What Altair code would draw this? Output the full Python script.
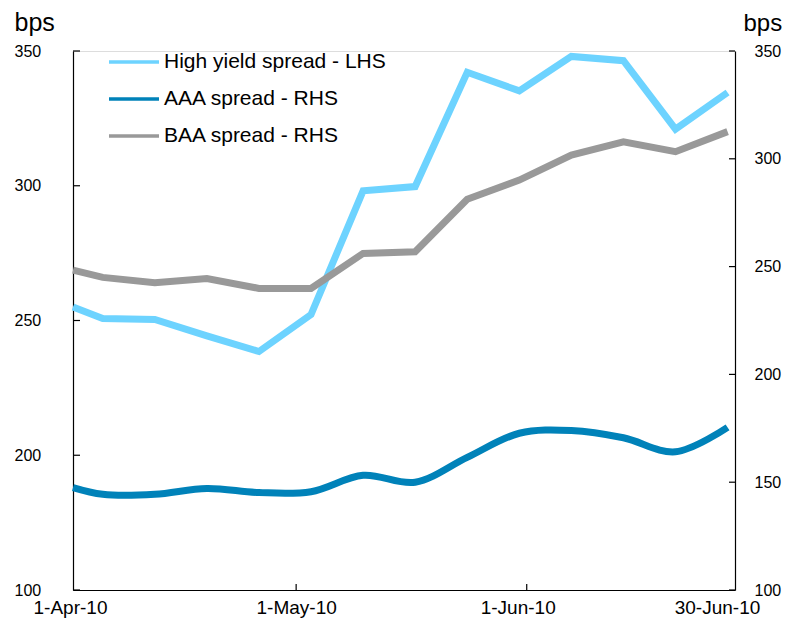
import altair as alt
import pandas as pd

dates = ["2010-04-01", "2010-04-05", "2010-04-12", "2010-04-19", "2010-04-26",
         "2010-05-03", "2010-05-10", "2010-05-17", "2010-05-24", "2010-05-31",
         "2010-06-07", "2010-06-14", "2010-06-21", "2010-06-28"]
high_yield = [255, 250.7, 250.4, 244.3, 238.5, 252.2, 298.1, 299.7, 342.1, 335.2, 348, 346.4, 321, 334.6]
aaa = [147.5, 144.4, 144.4, 147.1, 145.2, 145.6, 153.2, 150.0, 161.5, 172.7, 174.0, 170.6, 164.1, 175.4]
baa = [248.4, 245, 242.5, 244.5, 239.9, 239.9, 256.1, 256.9, 281.2, 290.1, 301.7, 307.9, 303.3, 312.6]

series_names = ["High yield spread - LHS", "AAA spread - RHS", "BAA spread - RHS"]
series_colors = ["#6dd3ff", "#0082b9", "#999999"]

left_ticks = [150, 200, 250, 300, 350]
right_ticks = [100, 150, 200, 250, 300, 350]
x_tick_dates = ["2010-05-01", "2010-06-01"]

df = pd.DataFrame({"date": dates, "hy": high_yield, "aaa": aaa, "baa": baa})
lt = pd.DataFrame({"v": left_ticks})
rt = pd.DataFrame({"v": right_ticks})
xt = pd.DataFrame({"d": x_tick_dates})

FONT = "Liberation Sans"
W, H = 662, 539

xscale = alt.Scale(type="utc", domain=[alt.DateTime(year=2010, month=4, date=1, utc=True),
                                       alt.DateTime(year=2010, month=6, date=29, utc=True)])
left_scale = alt.Scale(domain=[150, 350], nice=False, zero=False)
right_scale = alt.Scale(domain=[100, 350], nice=False, zero=False)
color_scale = alt.Scale(domain=series_names, range=series_colors)

x_axis = alt.Axis(
    values=[alt.DateTime(year=2010, month=4, date=1, utc=True),
            alt.DateTime(year=2010, month=5, date=1, utc=True),
            alt.DateTime(year=2010, month=6, date=1, utc=True),
            alt.DateTime(year=2010, month=6, date=29, utc=True)],
    labelExpr="datum.value >= utc(2010, 5, 29) ? '30-Jun-10' : utcFormat(datum.value, '%-d-%b-%y')",
    labelOffset={"expr": "datum.value >= utc(2010, 5, 29) ? -18 : (datum.value >= utc(2010, 5, 1) ? -9 : (datum.value <= utc(2010, 3, 1) ? -3 : 0))"},
    ticks=False, grid=False, title=None, labelFontSize=19, labelFont=FONT,
    labelColor="#000", labelPadding=8, labelBaseline="top", labelFlush=False,
    labelOverlap=False, domainColor="#000", domainWidth=1.2,
)

base = alt.Chart(df)

hy_line = base.mark_line(strokeWidth=7).encode(
    x=alt.X("date:T", scale=xscale, axis=x_axis),
    y=alt.Y("hy:Q", scale=left_scale, axis=alt.Axis(
        orient="left", values=left_ticks, ticks=False, grid=False,
        labelExpr="datum.value == 150 ? '100' : datum.label",
        labelAlign="left", labelPadding=59, labelFontSize=16, labelFont=FONT,
        labelColor="#000", domainColor="#000", domainWidth=1.2,
        title="bps", titleAngle=0, titleAlign="left", titleBaseline="alphabetic",
        titleX=-59, titleY=-21, titleFontSize=25, titleFont=FONT,
        titleFontWeight="normal", titleColor="#000")),
    color=alt.Color("s:N", scale=color_scale, legend=alt.Legend(
        title=None, orient="none", legendX=34, legendY=-16,
        symbolType="stroke", symbolSize=2500, symbolStrokeWidth=3.5,
        labelFontSize=21, labelFont=FONT, labelColor="#000", labelOffset=3,
        labelLimit=0, rowPadding=0, symbolOffset=0)),
).transform_calculate(s="'High yield spread - LHS'")

aaa_line = base.mark_line(strokeWidth=7, interpolate="catmull-rom").encode(
    x=alt.X("date:T", scale=xscale),
    y=alt.Y("aaa:Q", scale=right_scale, axis=alt.Axis(
        orient="right", values=right_ticks, ticks=False, grid=False,
        labelAlign="left", labelPadding=19, labelFontSize=16, labelFont=FONT,
        labelColor="#000", domainColor="#000", domainWidth=1.2,
        title="bps", titleAngle=0, titleAlign="left", titleBaseline="alphabetic",
        titleX=8, titleY=-21, titleFontSize=24, titleFont=FONT,
        titleFontWeight="normal", titleColor="#000")),
    color=alt.Color("s:N", scale=color_scale),
).transform_calculate(s="'AAA spread - RHS'")

baa_line = base.mark_line(strokeWidth=7).encode(
    x=alt.X("date:T", scale=xscale),
    y=alt.Y("baa:Q", scale=right_scale, axis=None),
    color=alt.Color("s:N", scale=color_scale),
).transform_calculate(s="'BAA spread - RHS'")

left_tick_marks = alt.Chart(lt).mark_rule(color="#000", strokeWidth=1.2).encode(
    y=alt.Y("v:Q", scale=left_scale, axis=None),
    x=alt.value(0), x2=alt.value(7))

right_tick_marks = alt.Chart(rt).mark_rule(color="#000", strokeWidth=1.2).encode(
    y=alt.Y("v:Q", scale=right_scale, axis=None),
    x=alt.value(W - 6), x2=alt.value(W))

x_tick_marks = alt.Chart(xt).mark_rule(color="#000", strokeWidth=1.2).encode(
    x=alt.X("d:T", scale=xscale),
    y=alt.value(H), y2=alt.value(H - 6))

chart = alt.layer(hy_line, aaa_line, baa_line, left_tick_marks, right_tick_marks, x_tick_marks
).resolve_scale(y="independent").properties(
    width=W, height=H,
    autosize=alt.AutoSizeParams(type="none"),
    padding={"left": 65, "top": 43, "right": 47, "bottom": 33},
).configure_view(stroke=None).configure(background="white")

chart.save("out.html", embed_options={"renderer": "svg", "actions": False})
